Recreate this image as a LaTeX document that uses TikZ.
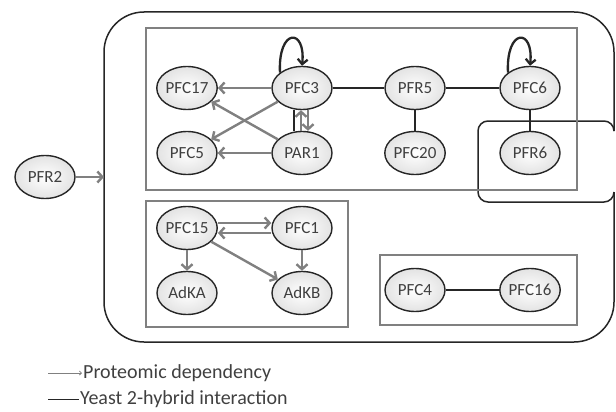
\documentclass[tikz,border=0pt]{standalone}
\usepackage{fontspec}
\setmainfont{Carlito}
\usetikzlibrary{shapes.geometric, arrows.meta}

\begin{document}
\begin{tikzpicture}[
  x=1pt, y=-1pt,
  every node/.style={font=\fontsize{17}{19}\selectfont, text=black!75},
  prot/.style={ellipse, draw=black!85, line width=1.4pt, minimum width=60pt, minimum height=43pt, inner sep=0pt, shading=radial, inner color=white, outer color=gray!22},
  plate/.style={draw=gray, rectangle, line width=1.4pt, inner sep=0pt},
  dep/.style={draw=gray, line width=2.4pt, -{Straight Barb[length=5pt, width=11pt]}},
  y2h/.style={draw=black!85, line width=2.3pt},
  selfloop/.style={draw=black!85, line width=2.3pt, -{Straight Barb[length=5pt, width=10pt]}},
  legend/.style={font=\fontsize{20}{22}\selectfont, inner sep=1pt, anchor=west}
]
\useasboundingbox (0,0) rectangle (616,412);

% Outer compartment with notch round PFR6
\draw[black!85, line width=1.5pt, rounded corners=40pt]
  (614,131) -- (614,12) -- (104,12) -- (104,342) -- (614,342) -- (614,192);
\draw[black!85, line width=1.5pt, rounded corners=10pt]
  (614,131) -- (614,121) -- (478,121) -- (478,202) -- (614,202) -- (614,192);

% Plates
\node[plate, minimum width=431pt, minimum height=162pt] (upper) at (361.5,109) {};
\node[plate, minimum width=202pt, minimum height=126pt] (lowleft) at (247,264) {};
\node[plate, minimum width=197pt, minimum height=70pt] (lowright) at (478.5,290) {};

% PFR2 entering
\node[prot] (pfr2) at (45,177) {PFR2};
\coordinate (entry) at (104,177);
\draw[dep] (pfr2) -- (entry);

% Upper cluster
\node[prot] (pfc17) at (187,88) {PFC17};
\node[prot] (pfc3) at (302,88) {PFC3};
\node[prot] (pfr5) at (415,88) {PFR5};
\node[prot] (pfc6) at (530,88) {PFC6};
\node[prot] (pfc5) at (187,153) {PFC5};
\node[prot] (par1) at (302,153) {PAR1};
\node[prot] (pfc20) at (415,153) {PFC20};
\node[prot] (pfr6) at (530,153) {PFR6};

\draw[dep] (pfc3) -- (pfc17);
\draw[dep] (pfc3) -- (pfc5);
\draw[dep] (par1) -- (pfc17);
\draw[dep] (par1) -- (pfc5);
\draw[y2h] ([xshift=-8pt]pfc3.south) -- ([xshift=-8pt]par1.north);
\draw[dep] ([xshift=-1pt]par1.north) -- ([xshift=-1pt]pfc3.south);
\draw[dep] ([xshift=6pt]pfc3.south) -- ([xshift=6pt]par1.north);

\draw[y2h] (pfc3) -- (pfr5);
\draw[y2h] (pfr5) -- (pfc6);
\draw[y2h] (pfr5) -- (pfc20);
\draw[y2h] (pfc6) -- (pfr6);

\draw[selfloop] (pfc3.145) .. controls +(-2,-45) and +(4,-38) .. (pfc3.north);
\draw[selfloop] (pfc6.145) .. controls +(-2,-45) and +(4,-38) .. (pfc6.north);

% Lower left cluster
\node[prot] (pfc15) at (187,228) {PFC15};
\node[prot] (pfc1) at (302,228) {PFC1};
\node[prot] (adka) at (187,293) {AdKA};
\node[prot] (adkb) at (302,293) {AdKB};

\draw[dep] ([yshift=5pt]pfc15.east) -- ([yshift=5pt]pfc1.west);
\draw[dep] ([yshift=-5pt]pfc1.west) -- ([yshift=-5pt]pfc15.east);
\draw[dep] (pfc15) -- (adka);
\draw[dep] (pfc1) -- (adkb);
\draw[dep] (pfc15) -- (adkb);

% Lower right cluster
\node[prot] (pfc4) at (415,290) {PFC4};
\node[prot] (pfc16) at (530,290) {PFC16};
\draw[y2h] (pfc4) -- (pfc16);

% Legend
\node[legend] (deplabel) at (82,373) {Proteomic dependency};
\node[legend] (y2hlabel) at (79,399) {Yeast 2-hybrid interaction};
\coordinate (depstart) at (48,373);
\coordinate (y2hstart) at (48,399);
\draw[gray, line width=0.8pt, -{Straight Barb[length=2pt, width=4pt]}] (depstart) -- (deplabel.west);
\draw[black!85, line width=1pt] (y2hstart) -- (y2hlabel.west);

\end{tikzpicture}
\end{document}
